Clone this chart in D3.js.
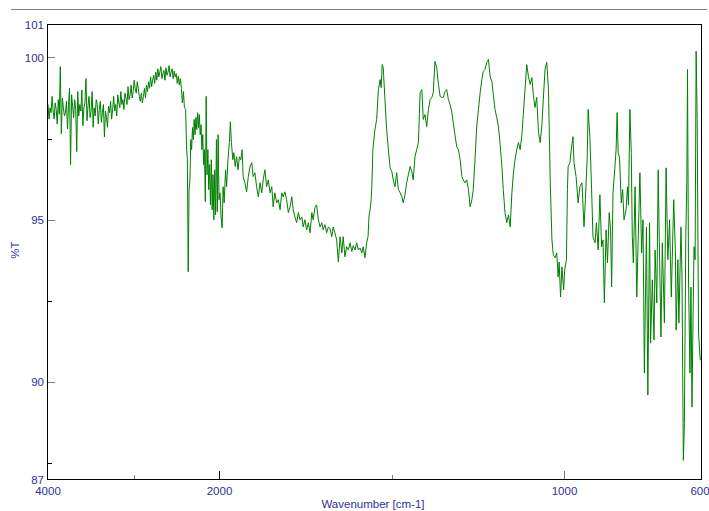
<!DOCTYPE html>
<html>
<head>
<meta charset="utf-8">
<script src="https://cdn.jsdelivr.net/npm/d3@7"></script>
<style>
  html, body { margin: 0; padding: 0; background: #fff; }
  svg { display: block; }
  .lbl { font-family: "Liberation Sans", Arial, sans-serif; font-size: 11.5px; fill: #2f2f9a; }
</style>
</head>
<body>
<svg id="chart" width="709" height="511"></svg>
<script>
// IR transmittance spectrum, [wavenumber cm-1, %T]
const bandOH_CH = [
  [4000,98.55],[3988,98.10],[3976,98.45],[3964,98.30],[3952,98.80],[3940,98.35],[3928,98.10],[3916,98.60],
  [3904,98.40],[3892,97.95],[3880,98.70],[3868,98.25],[3856,99.72],[3844,97.65],[3832,98.75],[3820,98.45],
  [3808,98.20],[3796,98.30],[3784,98.65],[3772,97.80],[3760,98.55],[3748,99.05],[3736,96.70],[3724,98.85],
  [3712,98.50],[3700,98.15],[3688,98.70],[3676,98.40],[3664,97.10],[3652,98.95],[3640,98.20],[3628,98.55],
  [3616,98.35],[3604,99.00],[3592,97.90],[3580,98.45],[3568,98.60],[3556,99.35],[3544,98.05],[3532,98.50],
  [3520,98.80],[3508,98.15],[3496,98.35],[3484,98.95],[3472,97.85],[3460,98.45],[3448,98.20],[3436,98.70],
  [3424,98.55],[3412,97.95],[3400,98.40],[3388,98.65],[3376,98.00],[3364,98.30],[3352,98.55],[3340,97.55],
  [3328,98.35],[3316,98.15],[3304,97.85],[3292,98.50],[3280,98.30],[3268,98.65],[3256,98.10],[3244,98.40],
  [3232,98.80],[3220,98.35],[3208,98.55],[3196,98.20],[3184,98.85],[3172,98.60],[3160,98.45],[3148,98.95],
  [3136,98.55],[3124,98.70],[3112,98.40],[3100,98.90],[3088,98.75],[3076,98.55],[3064,99.10],[3052,98.70],
  [3040,98.85],[3028,99.15],[3016,98.75],[3004,98.95],[2992,99.30],[2980,99.05],[2968,98.90],[2956,99.25],
  [2944,99.05],[2932,98.80],[2920,98.65],[2908,98.90],[2896,98.60],[2884,98.80],[2872,99.05],[2860,98.75],
  [2848,99.15],[2836,98.95],[2824,99.25],[2812,99.05],[2800,99.40],[2788,99.10],[2776,99.30],[2764,99.45],
  [2752,99.20],[2740,99.55],[2728,99.30],[2716,99.65],[2704,99.40],[2692,99.55],[2680,99.72],[2668,99.35],
  [2656,99.50],[2644,99.60],[2632,99.30],[2620,99.68],[2608,99.45],[2596,99.55],[2584,99.75],[2572,99.40],
  [2560,99.55],[2548,99.65],[2536,99.35],[2524,99.58],[2512,99.40],[2500,99.50],[2488,99.20],[2476,99.42],
  [2464,99.15],[2452,99.35],[2440,99.05],[2428,98.60],[2416,98.95],[2404,98.45]
];

const bandTriple = [
  [2390,98.40],[2380,97.25],[2370,96.85],[2360,93.40],[2350,95.93],[2340,96.23],[2330,97.47],[2320,97.16],
  [2310,97.84],[2300,97.47],[2290,98.09],[2280,97.62],[2270,98.15],[2260,97.78],[2250,98.30],[2240,97.84],
  [2230,98.24],[2220,97.62],[2210,97.93],[2200,97.16],[2190,97.62],[2180,96.70],[2170,97.16],[2160,95.56],
  [2150,98.80],[2140,96.39],[2130,97.16],[2120,95.93],[2110,96.70],[2100,95.46],[2090,96.85],[2080,95.31],
  [2070,96.39],[2060,95.00],[2050,96.54],[2040,95.15],[2030,97.47],[2020,95.25],[2010,97.62],[2000,95.62]
];

const bandCarbonyl = [
  [1997,95.83],[1994,95.09],[1991,94.75],[1988,96.02],[1985,95.52],[1981,96.54],[1978,96.02],[1974,96.85],
  [1970,97.38],[1967,98.02],[1964,97.38],[1960,96.85],[1957,97.07],[1953,96.64],[1949,96.94],[1945,96.54],
  [1941,96.94],[1937,96.85],[1933,97.16],[1930,96.33],[1925,96.14],[1920,95.86],[1915,96.33],[1910,96.64],
  [1905,96.76],[1901,96.33],[1896,96.45],[1891,96.02],[1886,95.71],[1881,96.14],[1876,95.83],[1872,96.23],
  [1867,96.54],[1862,96.02],[1857,96.23],[1852,95.83],[1847,96.02],[1843,95.40],[1838,95.83],[1833,95.52],
  [1828,95.62],[1823,95.31],[1818,95.83],[1814,95.71],[1809,95.86],[1804,95.62],[1799,95.22],[1794,95.40],
  [1789,95.71],[1785,95.31],[1780,95.09],[1775,94.91],[1770,95.22],[1765,95.00],[1760,95.09],[1756,94.78],
  [1751,95.00],[1746,94.69],[1741,94.91],[1736,94.60],[1731,95.22],[1727,95.00],[1722,95.37],[1717,95.46],
  [1712,95.00],[1707,94.78],[1702,94.91],[1698,94.69],[1693,94.85],[1688,94.60],[1683,94.78],[1678,94.72],
  [1673,94.48],[1669,94.78],[1664,94.60],[1659,94.38],[1654,93.70],[1649,94.48],[1644,93.98],[1640,94.48],
  [1635,93.86],[1630,94.17],[1625,94.07],[1620,94.29],[1615,94.02],[1611,94.20],[1606,94.07],[1601,94.29],
  [1596,94.07],[1591,94.13],[1586,93.98],[1582,94.17],[1577,93.83],[1572,94.29],[1568,94.48]
];

const bandFingerprint = [
  [1565,95.15],[1562,95.31],[1559,95.62],[1557,96.02],[1554,97.16],[1548,97.78],[1543,98.09],[1538,99.01],
  [1533,99.32],[1530,99.07],[1527,99.78],[1524,99.69],[1519,98.70],[1514,97.78],[1509,97.16],[1504,96.60],
  [1499,96.48],[1495,96.23],[1490,96.02],[1485,96.45],[1480,95.93],[1475,95.83],[1470,95.71],[1466,95.52],
  [1461,95.77],[1456,96.14],[1451,96.39],[1446,96.64],[1441,96.48],[1437,96.23],[1432,96.94],[1427,97.16],
  [1422,97.38],[1417,98.92],[1412,99.01],[1408,98.09],[1403,98.24],[1398,97.87],[1393,98.40],[1388,98.70],
  [1383,98.77],[1379,98.92],[1374,99.88],[1369,99.69],[1364,99.17],[1359,98.80],[1354,98.77],[1350,98.77],
  [1345,98.95],[1340,99.01],[1335,98.70],[1330,98.55],[1325,98.30],[1321,97.99],[1316,97.62],[1311,97.25],
  [1306,97.16],[1301,96.85],[1296,96.33],[1292,96.23],[1287,96.14],[1282,96.23],[1277,95.93],[1272,95.40],
  [1267,95.62],[1263,95.93],[1258,96.85],[1253,97.87],[1248,98.40],[1243,98.92],[1238,99.32],[1234,99.57],
  [1229,99.63],[1224,99.85],[1219,99.94],[1214,99.41],[1209,99.26],[1205,98.86],[1200,98.40],[1195,98.15],
  [1190,97.87],[1185,97.31],[1180,96.64],[1176,95.93],[1171,95.22],[1166,94.91],[1161,95.15],[1156,94.78],
  [1151,95.83],[1147,96.39],[1142,96.85],[1137,97.16],[1132,97.38],[1127,97.16],[1122,97.62],[1118,98.24],
  [1113,99.01],[1108,99.78],[1103,99.41],[1098,99.17],[1093,99.38],[1089,98.86],[1084,98.46],[1079,98.77],
  [1074,97.69],[1069,97.38],[1064,97.93],[1060,98.70],[1055,99.63],[1050,99.85],[1045,99.01],[1040,96.23],
  [1035,94.38],[1031,93.92],[1026,93.83],[1021,93.98],[1017,93.24],[1014,93.70],[1010,92.62],[1006,93.55],
  [1001,92.84]
];

const bandLowWavenumber = [
  [998,93.46],[993,93.77],[990,95.93],[988,96.64],[983,96.76],[978,97.25],[974,97.56],[971,96.76],
  [965,96.33],[959,95.52],[954,96.02],[948,96.14],[942,94.78],[938,95.62],[933,96.85],[930,98.40],
  [925,97.56],[920,95.93],[916,94.48],[910,94.29],[906,94.91],[901,94.07],[896,95.77],[891,94.17],
  [887,94.38],[883,92.44],[878,94.69],[874,93.67],[869,95.22],[865,94.69],[862,92.93],[858,95.83],
  [853,96.54],[849,97.16],[846,98.30],[843,97.07],[839,96.91],[834,95.52],[830,95.93],[826,95.00],
  [820,95.31],[816,96.02],[813,95.46],[809,98.40],[805,97.07],[802,94.48],[799,93.67],[794,96.02],
  [789,92.62],[785,94.38],[780,96.45],[775,93.98],[771,95.00],[767,90.28],[761,94.78],[757,89.60],
  [752,94.91],[749,91.20],[744,93.15],[739,91.30],[736,94.07],[731,92.44],[727,96.54],[724,94.48],
  [719,91.39],[715,94.29],[709,91.82],[704,96.60],[699,93.77],[694,95.00],[689,92.62],[682,95.62],
  [677,93.98],[675,91.60],[670,93.77],[667,91.82],[661,94.78],[658,93.24],[654,87.59],[651,88.73],
  [647,94.48],[644,96.14],[642,99.63],[639,93.15],[635,90.28],[632,92.93],[629,89.23],[626,91.91],
  [623,94.17],[620,93.77],[617,100.19],[614,98.09],[610,91.51],[605,90.68],[601,90.68]
];

const yLabelTicks = [101, 100, 95, 90, 87];
const yMajorTicks = [100, 95, 90];
const yMinorTicks = [97.5, 92.5, 87.5];
const xLabelTicks = [4000, 2000, 1000, 600];
const xAxisTitle = "Wavenumber [cm-1]";
const yAxisTitle = "%T";

const spectrum = [].concat(bandOH_CH, bandTriple, bandCarbonyl, bandFingerprint, bandLowWavenumber);

const svg = d3.select("#chart");

// Split abscissa: 4000-2000 compressed, 2000-600 expanded
const x = d3.scaleLinear().domain([4000, 2000, 600]).range([48, 219, 702]);
const y = d3.scaleLinear().domain([87, 101]).range([479.5, 25]);

// header rule
svg.append("line")
  .attr("x1", 11).attr("x2", 707).attr("y1", 9.5).attr("y2", 9.5)
  .attr("stroke", "#808080").attr("stroke-width", 1);

// tick marks
function ticks(axis, tx, ty, color) {
  const g = svg.append("g").attr("transform", `translate(${tx},${ty})`).call(axis);
  g.select(".domain").remove();
  g.selectAll(".tick line").attr("stroke", color).attr("shape-rendering", "crispEdges");
  g.selectAll(".tick text").remove();
}
ticks(d3.axisLeft(y).tickValues(yMajorTicks).tickSize(-7), 48, 0, "#808080");
ticks(d3.axisLeft(y).tickValues(yMinorTicks).tickSize(-4), 48, 0, "#000");
ticks(d3.axisBottom(x).tickValues([2000]).tickSize(-8), 0, 479, "#000");
ticks(d3.axisBottom(x).tickValues([1000]).tickSize(-8), 0, 479, "#808080");
ticks(d3.axisBottom(x).tickValues([3000, 1500]).tickSize(-4), 0, 479, "#808080");

// tick labels
const yl = svg.append("g").attr("transform", "translate(48,0)")
  .call(d3.axisLeft(y).tickValues(yLabelTicks).tickSize(0).tickPadding(4).tickFormat(d3.format("d")));
yl.select(".domain").remove();
yl.selectAll("text").attr("class", "lbl").attr("font-family", null).attr("font-size", null).attr("fill", null);

const xl = svg.append("g").attr("transform", "translate(0,479)")
  .call(d3.axisBottom(x).tickValues(xLabelTicks).tickSize(0).tickPadding(7.5).tickFormat(d3.format("d")));
xl.select(".domain").remove();
xl.selectAll("text").attr("class", "lbl").attr("font-family", null).attr("font-size", null).attr("fill", null);
// end labels sit inside the window edges
xl.selectAll(".tick").filter(d => d === 600).select("text").attr("dx", -2.5);
xl.selectAll(".tick").filter(d => d === 4000).select("text").attr("dx", -0.5);

// spectrum trace
const line = d3.line().x(d => x(d[0])).y(d => y(d[1]));
svg.append("path")
  .datum(spectrum)
  .attr("d", line)
  .attr("fill", "none")
  .attr("stroke", "#008000")
  .attr("stroke-width", 1)
  .attr("stroke-linejoin", "round");

// plot frame
svg.append("rect")
  .attr("x", 47.5).attr("y", 24.5)
  .attr("width", 701 - 47).attr("height", 479 - 24)
  .attr("fill", "none").attr("stroke", "#000").attr("stroke-width", 1);

// axis titles
svg.append("text").attr("class", "lbl")
  .attr("x", 373).attr("y", 508).attr("text-anchor", "middle")
  .text(xAxisTitle);

svg.append("text").attr("class", "lbl")
  .attr("transform", "translate(19,250) rotate(-90)")
  .attr("text-anchor", "middle")
  .text(yAxisTitle);
</script>
</body>
</html>
